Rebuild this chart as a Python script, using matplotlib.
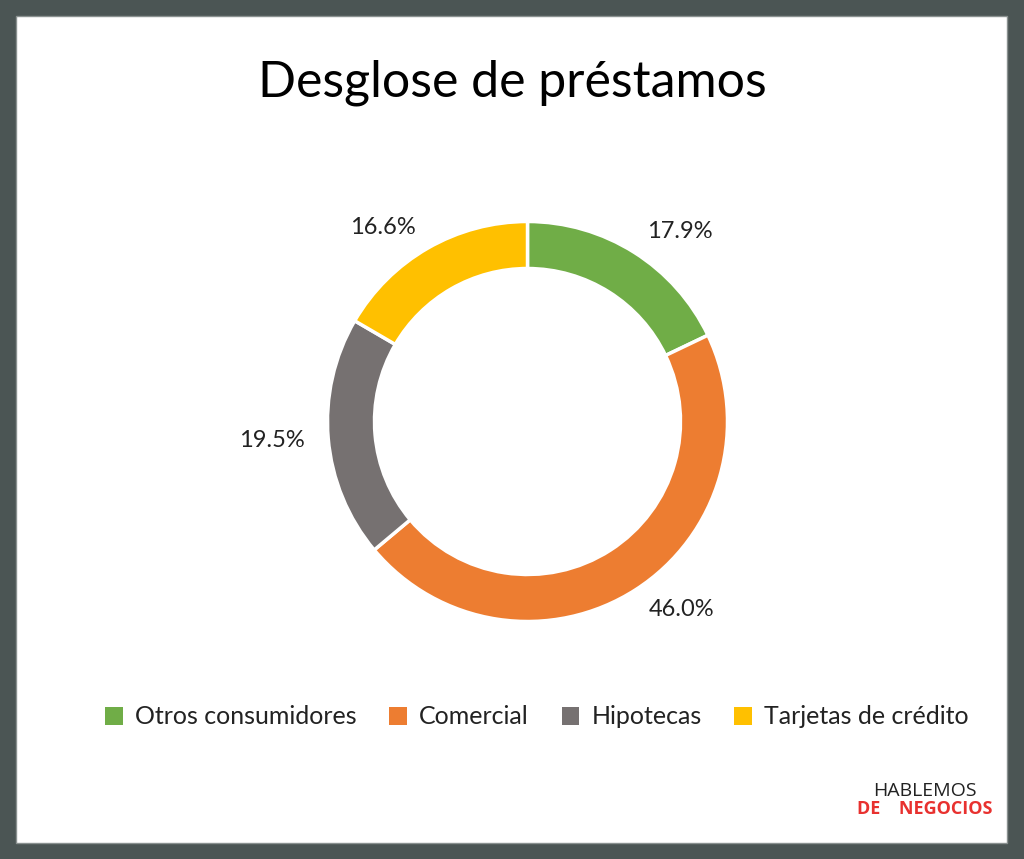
import numpy as np
import matplotlib
matplotlib.use("Agg")
import matplotlib.pyplot as plt
from matplotlib.patches import Rectangle

categories = ["Otros consumidores", "Comercial", "Hipotecas", "Tarjetas de crédito"]
values = [17.9, 46.0, 19.5, 16.6]
colors = ["#70ad47", "#ed7d31", "#767171", "#ffc000"]
title = "Desglose de préstamos"

FONT = "Lato"
W, H = 1024, 859
fig = plt.figure(figsize=(W / 100, H / 100), dpi=100)
fig.patch.set_facecolor("#4b5554")

# white panel
fig.patches.append(Rectangle((16 / W, 16 / H), (1007 - 16) / W, (843 - 16) / H,
                             transform=fig.transFigure, facecolor="white",
                             edgecolor="#8a9190", linewidth=1, zorder=-10))

cx, cy, R = 527.5, H - 421.5, 200
half = 210
ax = fig.add_axes([(cx - half) / W, (cy - half) / H, 2 * half / W, 2 * half / H])
ax.set_zorder(5)
ax.set_aspect("equal")
ax.axis("off")

wedges, _ = ax.pie(values, colors=colors, startangle=90, counterclock=False, radius=1.0,
                   wedgeprops=dict(width=0.235, edgecolor="white", linewidth=2.5))
ax.set_xlim(-half / R, half / R)
ax.set_ylim(-half / R, half / R)

total = sum(values)
start = 90.0
for v, w in zip(values, wedges):
    mid = np.deg2rad(start - v / total * 360 / 2)
    start -= v / total * 360
    x, y = 1.12 * np.cos(mid), 1.12 * np.sin(mid)
    ha = "left" if x > 0 else "right"
    ax.text(x, y, f"{v:.1f}%", ha=ha, va="center", fontsize=17, family=FONT,
            color="#222222", clip_on=False)

fig.text(512 / W, 1 - 83 / H, title, ha="center", va="center", fontsize=36,
         family=FONT, color="black", zorder=6)

leg = fig.legend(wedges, categories, loc="center", bbox_to_anchor=(537 / W, 1 - 717 / H),
                 ncol=4, frameon=False, handlelength=0.7, handleheight=0.7,
                 handletextpad=0.5, columnspacing=1.3,
                 prop=dict(family=FONT, size=18))
leg.set_zorder(6)
for t in leg.get_texts():
    t.set_color("#222222")
for hnd in leg.legend_handles:
    hnd.set_edgecolor("none")

# logo
fig.text(925 / W, 1 - 791 / H, "HABLEMOS", ha="center", va="center", fontsize=14,
         family="Open Sans", color="#222222", zorder=6)
fig.text(925 / W, 1 - 809 / H, "DE    NEGOCIOS", ha="center", va="center", fontsize=13,
         family="Open Sans", weight="bold", color="#e8312f", zorder=6)

fig.savefig("out.png", dpi=100, facecolor=fig.get_facecolor())
